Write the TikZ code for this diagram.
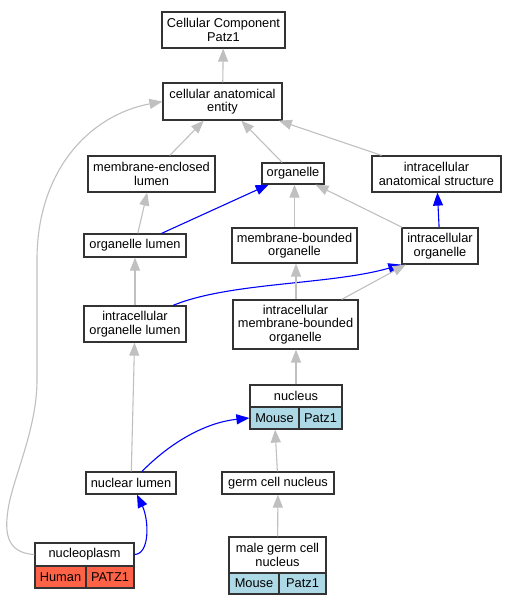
\documentclass[tikz,border=0pt]{standalone}
\usepackage{fontspec}
\setmainfont{Liberation Sans}
\usetikzlibrary{arrows.meta}
\definecolor{edgegray}{HTML}{C0C0C0}
\definecolor{lightblue}{HTML}{ADD8E6}
\definecolor{tomato}{HTML}{FF6347}
\definecolor{boxline}{HTML}{333333}
\begin{document}
\begin{tikzpicture}[x=1pt,y=-1pt,
  box/.style={draw=boxline,line width=1.2pt,fill=white,inner sep=0pt,align=center,
    font=\fontsize{12.8}{13.5}\selectfont},
  cellb/.style={box,fill=lightblue},
  cellr/.style={box,fill=tomato},
  isa/.style={draw=edgegray,line width=1.1pt,-{Triangle[length=13pt,width=10pt]}},
  partof/.style={draw=blue,line width=1.1pt,-{Triangle[length=13pt,width=10pt]}}]
\useasboundingbox (0,0) rectangle (517,605);
\fill[white] (0,0) rectangle (517,605);
% nodes
\node[box,minimum width=123pt,minimum height=36pt] (cc) at (223.5,30) {Cellular Component\\Patz1};
\node[box,minimum width=119pt,minimum height=37pt] (cae) at (222.5,101.5) {cellular anatomical\\entity};
\node[box,minimum width=127pt,minimum height=36pt] (mel) at (151.5,174) {membrane-enclosed\\lumen};
\node[box,minimum width=62pt,minimum height=21pt] (org) at (293,173.5) {organelle};
\node[box,minimum width=129pt,minimum height=36pt] (ias) at (436.5,174) {intracellular\\anatomical structure};
\node[box,minimum width=102pt,minimum height=23pt] (ol) at (135,245.5) {organelle lumen};
\node[box,minimum width=125pt,minimum height=35pt] (mbo) at (294.5,245.5) {membrane-bounded\\organelle};
\node[box,minimum width=76pt,minimum height=36pt] (io) at (440,246) {intracellular\\organelle};
\node[box,minimum width=102pt,minimum height=36pt] (iol) at (135,324) {intracellular\\organelle lumen};
\node[box,minimum width=125pt,minimum height=49pt] (imbo) at (295.5,324.5) {intracellular\\membrane-bounded\\organelle};
\node[box,minimum width=92pt,minimum height=22pt] (nuc) at (296,396) {nucleus};
\node[cellb,minimum width=49pt,minimum height=22pt] (nucm) at (274.5,418) {Mouse};
\node[cellb,minimum width=43pt,minimum height=22pt] (nucp) at (320.5,418) {Patz1};
\node[box,minimum width=90pt,minimum height=22pt] (nl) at (131,483) {nuclear lumen};
\node[box,minimum width=112pt,minimum height=22pt] (gcn) at (278,483) {germ cell nucleus};
\node[box,minimum width=99pt,minimum height=23pt] (np) at (84.5,554.5) {nucleoplasm};
\node[cellr,minimum width=51pt,minimum height=22pt] (nph) at (60.5,577) {Human};
\node[cellr,minimum width=48pt,minimum height=22pt] (npp) at (110,577) {PATZ1};
\node[box,minimum width=97pt,minimum height=36pt] (mg) at (277.5,555) {male germ cell\\nucleus};
\node[cellb,minimum width=50pt,minimum height=21pt] (mgm) at (254,583.5) {Mouse};
\node[cellb,minimum width=47pt,minimum height=21pt] (mgp) at (302.5,583.5) {Patz1};
% edges
\draw[isa] (cae) -- (cc);
\draw[isa] (mel) -- (cae);
\draw[isa] (org) -- (cae);
\draw[isa] (ias) -- (cae);
\draw[isa] (np.west) .. controls (5,553) and (5,530) .. (8,510)
  .. controls (12,480) and (37,430) .. (37,380) -- (37,260)
  .. controls (37,170) and (90,115) .. (cae.west);
\draw[isa] (ol) -- (mel);
\draw[partof] (ol) -- (org);
\draw[isa] (mbo.north) -- (org.south -| mbo.north);
\draw[isa] (io) -- (org);
\draw[partof] (io) -- (ias);
\draw[isa] (iol) -- (ol);
\draw[partof] ([xshift=38pt]iol.north) .. controls (230,282) and (330,285) .. (io.south west);
\draw[isa] (imbo.north -| 296,0) -- (mbo.south -| 296,0);
\draw[isa] (imbo) -- (io);
\draw[isa] (nuc.north) -- (imbo.south -| nuc.north);
\draw[isa] (nl) -- (iol);
\draw[partof] ([xshift=11pt]nl.north) .. controls (175,438) and (210,422) .. (nucm.west);
\draw[isa] (gcn) -- (nucm);
\draw[isa] (mg) -- (gcn);
\draw[partof] (np.east) .. controls (150,554) and (149,520) .. (nl.south -| 137,0);
\end{tikzpicture}
\end{document}
